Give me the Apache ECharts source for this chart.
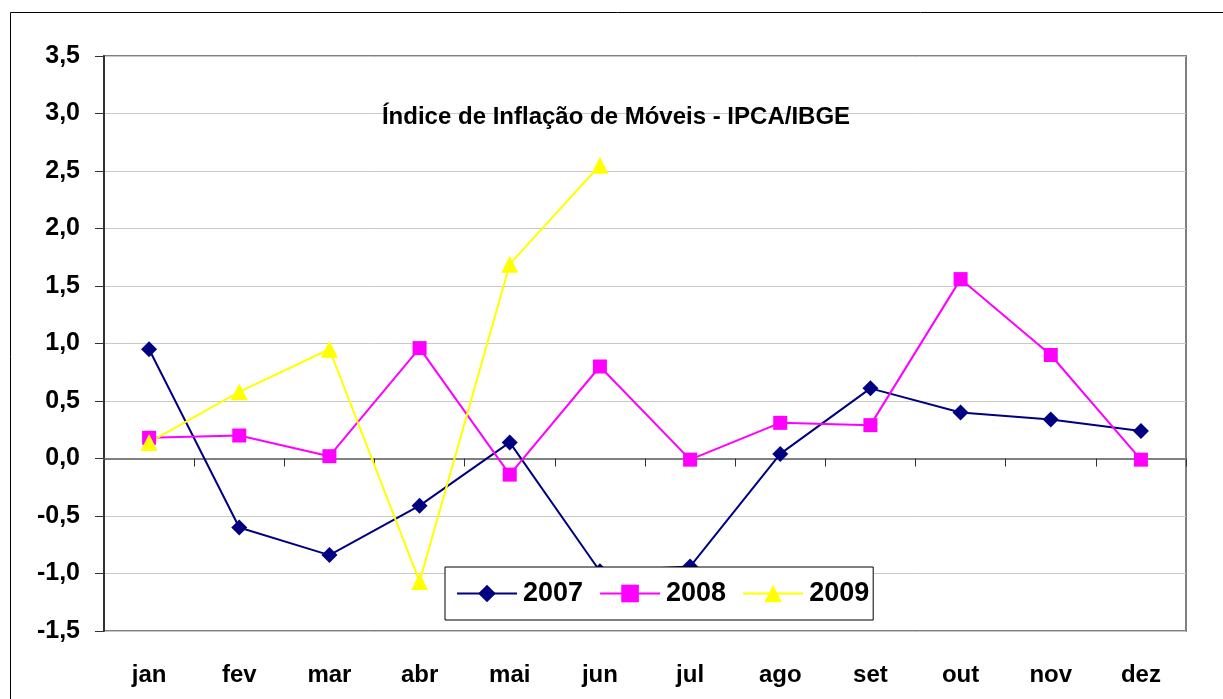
<!DOCTYPE html>
<html>
<head>
<meta charset="utf-8">
<script src="https://cdn.jsdelivr.net/npm/echarts@6/dist/echarts.min.js"></script>
<style>
html,body{margin:0;padding:0;background:#fff}
#main{width:1223px;height:699px}
</style>
</head>
<body>
<div id="main"></div>
<script>
var months = ['jan','fev','mar','abr','mai','jun','jul','ago','set','out','nov','dez']
var v2007 = [0.95,-0.60,-0.84,-0.41,0.14,-0.98,-0.94,0.04,0.61,0.40,0.34,0.24]
var v2008 = [0.18,0.20,0.02,0.96,-0.14,0.80,-0.01,0.31,0.29,1.56,0.90,-0.01]
var v2009 = [0.14,0.58,0.95,-1.07,1.69,2.55]
var yTicks = [-1.5,3.5,0.5] // min, max, step

var myChart = echarts.init(document.getElementById('main'))

var font = 'Liberation Sans, Arial, sans-serif'

function mkSeries(name, data, color, symbol, size) {
    return {
        name: name,
        type: 'line',
        xAxisIndex: 0,
        data: data,
        symbol: symbol,
        symbolSize: size,
        lineStyle: {color: color, width: 2},
        itemStyle: {color: color},
        emphasis: {disabled: true},
        z: 3
    }
}

var option = {
    animation: false,
    title: {
        text: 'Índice de Inflação de Móveis - IPCA/IBGE',
        left: 611,
        textAlign: 'center',
        top: 100,
        textStyle: {fontFamily: font, fontSize: 24, fontWeight: 'bold', color: '#000'}
    },
    graphic: [{
        type: 'rect',
        shape: {x: 10.5, y: 12.5, width: 1240, height: 720},
        style: {fill: 'none', stroke: '#000', lineWidth: 1},
        silent: true,
        z: -10
    }],
    legend: {
        left: 445,
        top: 567,
        orient: 'horizontal',
        itemWidth: 60,
        itemHeight: 22,
        itemGap: 16,
        padding: [13, 4, 13, 11],
        borderColor: '#000',
        borderWidth: 1,
        backgroundColor: '#fff',
        textStyle: {fontFamily: font, fontSize: 27, fontWeight: 'bold', color: '#000', padding: [0, 0, 0, 1]},
        data: ['2007', '2008', '2009'],
        z: 10
    },
    grid: {
        left: 104,
        right: 37,
        top: 56,
        bottom: 68,
        show: true,
        borderColor: '#808080',
        borderWidth: 2,
        backgroundColor: '#fff'
    },
    xAxis: [{
        type: 'category',
        data: months,
        position: 'bottom',
        axisLine: {show: false, onZero: false},
        axisTick: {show: false},
        axisLabel: {fontFamily: font, fontSize: 24, fontWeight: 'bold', color: '#000', margin: 32}
    }, {
        type: 'category',
        data: months,
        position: 'bottom',
        axisLine: {show: true, onZero: true, lineStyle: {color: '#808080', width: 2}},
        axisTick: {show: true, inside: false, length: 8, lineStyle: {color: '#333', width: 1}},
        axisLabel: {show: false}
    }],
    yAxis: {
        type: 'value',
        min: yTicks[0],
        max: yTicks[1],
        interval: yTicks[2],
        axisLine: {show: true, onZero: false, lineStyle: {color: '#333', width: 2}},
        axisTick: {show: true, length: 9, lineStyle: {color: '#333'}},
        splitLine: {show: true, lineStyle: {color: '#c8c8c8', width: 1}},
        axisLabel: {
            fontFamily: font, fontSize: 25, fontWeight: 'bold', color: '#000', margin: 24,
            formatter: function (v) { return v.toFixed(1).replace('.', ',') }
        }
    },
    series: [
        mkSeries('2007', v2007, '#000080', 'diamond', 16),
        mkSeries('2008', v2008, '#ff00ff', 'rect', 14),
        mkSeries('2009', v2009, '#ffff00', 'triangle', 17)
    ]
}
myChart.setOption(option)
</script>
</body>
</html>
